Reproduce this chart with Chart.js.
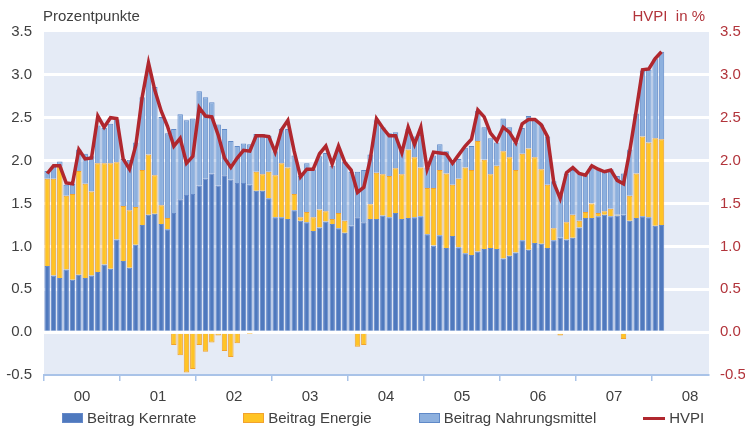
<!DOCTYPE html>
<html>
<head>
<meta charset="utf-8">
<script src="https://cdn.jsdelivr.net/npm/chart.js@4.4.1/dist/chart.umd.min.js"></script>
<style>
  html, body { margin: 0; padding: 0; background: #fff; }
  #wrap { position: relative; width: 745px; height: 429px; font-family: "Liberation Sans", Arial, sans-serif; color: #404040; }
  #chart { position: absolute; left: 0; top: 0; }
  .hdr { position: absolute; top: 7px; font-size: 15px; line-height: 18px; white-space: pre; }
  #legend { position: absolute; left: 62px; top: 409px; display: flex; gap: 47px; font-size: 15px; line-height: 18px; }
  #legend .item { display: flex; align-items: center; white-space: nowrap; }
  #legend .box { width: 21px; height: 10px; box-sizing: border-box; border: 1px solid; margin-right: 4px; }
  #legend .line { width: 22px; height: 3px; margin-right: 4px; }
</style>
</head>
<body>
<div id="wrap">
  <canvas id="chart" width="745" height="429"></canvas>
  <div class="hdr" style="left:43px">Prozentpunkte</div>
  <div class="hdr" style="right:40px; color:#b2343b">HVPI  in %</div>
  <div id="legend"></div>
</div>
<script>
// Monthly data Jan 2000 - Feb 2008 (axis runs on to Sep 2008)
const yearLabels = ["00", "01", "02", "03", "04", "05", "06", "07", "08"];
const monthNames = ["Jan", "Feb", "Mrz", "Apr", "Mai", "Jun", "Jul", "Aug", "Sep", "Okt", "Nov", "Dez"];
const monthsShown = 105;

// Beitrag Kernrate (Prozentpunkte)
const kernrate = [
  0.77, 0.66, 0.63, 0.73, 0.61, 0.67, 0.63, 0.66, 0.70, 0.79, 0.74, 1.08,
  0.83, 0.75, 1.02, 1.25, 1.37, 1.38, 1.26, 1.20, 1.39, 1.55, 1.60, 1.61,
  1.71, 1.79, 1.85, 1.71, 1.83, 1.78, 1.74, 1.74, 1.72, 1.65, 1.65, 1.56,
  1.34, 1.34, 1.32, 1.42, 1.30, 1.28, 1.18, 1.22, 1.29, 1.26, 1.21, 1.16,
  1.24, 1.34, 1.28, 1.32, 1.32, 1.36, 1.34, 1.39, 1.32, 1.33, 1.34, 1.35,
  1.14, 1.01, 1.13, 0.98, 1.12, 0.99, 0.92, 0.90, 0.94, 0.97, 0.98, 0.97,
  0.86, 0.89, 0.93, 1.07, 0.96, 1.04, 1.03, 0.98, 1.07, 1.10, 1.08, 1.10,
  1.22, 1.33, 1.33, 1.35, 1.37, 1.35, 1.36, 1.37, 1.30, 1.33, 1.35, 1.34,
  1.24, 1.25
];

// Beitrag Energie
const energie = [
  1.02, 1.13, 1.30, 0.86, 1.00, 1.21, 1.10, 0.98, 1.27, 1.18, 1.23, 0.90,
  0.64, 0.67, 0.44, 0.64, 0.70, 0.45, 0.22, 0.13, -0.15, -0.27, -0.47, -0.43,
  -0.15, -0.23, -0.12, -0.04, -0.22, -0.29, -0.13, -0.02, -0.01, 0.22, 0.19, 0.31,
  0.49, 0.63, 0.60, 0.19, 0.04, 0.12, 0.16, 0.21, 0.12, 0.06, 0.18, 0.14,
  -0.02, -0.17, -0.15, 0.17, 0.54, 0.48, 0.48, 0.52, 0.52, 0.80, 0.70, 0.57,
  0.54, 0.67, 0.76, 0.87, 0.60, 0.80, 1.00, 0.99, 1.29, 1.04, 0.86, 0.97,
  1.25, 1.15, 0.96, 1.01, 1.18, 1.00, 0.87, 0.74, 0.14, -0.04, 0.20, 0.27,
  0.08, 0.07, 0.17, 0.04, 0.04, 0.09, 0.01, -0.08, 0.29, 0.52, 0.93, 0.87,
  1.02, 1.00
];

// Beitrag Nahrungsmittel
const nahrung = [
  0.09, 0.14, 0.06, 0.13, 0.12, 0.25, 0.35, 0.41, 0.44, 0.41, 0.46, 0.50,
  0.55, 0.59, 0.75, 0.85, 1.02, 1.03, 1.03, 0.99, 0.98, 0.99, 0.87, 0.88,
  1.10, 0.95, 0.83, 0.71, 0.54, 0.45, 0.43, 0.46, 0.47, 0.44, 0.47, 0.42,
  0.28, 0.40, 0.45, 0.45, 0.48, 0.57, 0.56, 0.62, 0.68, 0.62, 0.76, 0.69,
  0.63, 0.53, 0.61, 0.58, 0.61, 0.55, 0.50, 0.42, 0.29, 0.24, 0.24, 0.38,
  0.24, 0.38, 0.30, 0.26, 0.25, 0.23, 0.23, 0.28, 0.35, 0.38, 0.42, 0.27,
  0.38, 0.35, 0.32, 0.30, 0.38, 0.45, 0.52, 0.56, 0.55, 0.50, 0.57, 0.52,
  0.56, 0.43, 0.44, 0.51, 0.46, 0.46, 0.45, 0.48, 0.54, 0.70, 0.77, 0.85,
  0.93, 1.02
];

// HVPI in %
const hvpi = [
  1.85, 1.94, 1.94, 1.74, 1.73, 2.13, 2.02, 2.03, 2.52, 2.39, 2.50, 2.49,
  2.02, 1.90, 2.18, 2.74, 3.14, 2.82, 2.58, 2.40, 2.17, 2.26, 1.97, 2.05,
  2.62, 2.52, 2.51, 2.30, 2.03, 1.92, 2.03, 2.12, 2.11, 2.29, 2.29, 2.28,
  2.10, 2.36, 2.47, 2.11, 1.81, 1.90, 1.90, 2.08, 2.17, 1.96, 2.17, 1.98,
  1.89, 1.63, 1.69, 2.01, 2.49, 2.38, 2.29, 2.29, 2.09, 2.39, 2.19, 2.39,
  1.90, 2.10, 2.09, 2.08, 1.97, 2.07, 2.17, 2.25, 2.59, 2.51, 2.32, 2.23,
  2.39, 2.33, 2.21, 2.43, 2.48, 2.48, 2.42, 2.28, 1.74, 1.56, 1.86, 1.92,
  1.85, 1.83, 1.94, 1.90, 1.87, 1.89, 1.77, 1.73, 2.12, 2.58, 3.06, 3.07,
  3.19, 3.27
];

// category labels: one per month on the axis
const categories = [];
for (let i = 0; i < monthsShown; i++) {
  categories.push(monthNames[i % 12] + " " + (2000 + Math.floor(i / 12)));
}
// year boundaries (tick marks) and year centres (labels) on the month scale
const yearTicks = [];
for (let m = 0; m <= 102; m += 6) yearTicks.push(m);

Chart.defaults.font.family = '"Liberation Sans", Arial, sans-serif';
Chart.defaults.font.size = 15;
Chart.defaults.color = "#404040";

// light plot background
const plotBg = {
  id: "plotBg",
  beforeDraw(chart) {
    const { ctx, chartArea: a } = chart;
    ctx.save();
    ctx.fillStyle = "#e5ebf6";
    ctx.fillRect(a.left, a.top, a.right - a.left, a.bottom - a.top);
    ctx.restore();
  }
};

const chart = new Chart(document.getElementById("chart").getContext("2d"), {
  data: {
    labels: categories,
    datasets: [
      { type: "bar", label: "Beitrag Kernrate", data: kernrate, backgroundColor: "#4f79be", borderColor: "#6488c8", borderWidth: 1, order: 1 },
      { type: "bar", label: "Beitrag Energie", data: energie, backgroundColor: "#ffc425", borderColor: "#f2a22e", borderWidth: 1, order: 1 },
      { type: "bar", label: "Beitrag Nahrungsmittel", data: nahrung, backgroundColor: "#8db0de", borderColor: "#5f89c8", borderWidth: 1, order: 1 },
      { type: "line", label: "HVPI", data: hvpi, yAxisID: "y2", borderColor: "#b0272e", borderWidth: 3.5, pointRadius: 0, tension: 0, order: 0 }
    ]
  },
  options: {
    responsive: false,
    animation: false,
    barPercentage: 0.86,
    categoryPercentage: 1,
    layout: { padding: { top: 32, bottom: 16, left: 0, right: 0 } },
    plugins: { legend: { display: false }, tooltip: { enabled: false } },
    scales: {
      x: { type: "category", stacked: true, display: false, offset: true },
      xYear: {
        type: "linear", position: "bottom", min: 0, max: monthsShown,
        afterBuildTicks: (s) => { s.ticks = yearTicks.map(v => ({ value: v })); },
        ticks: {
          autoSkip: false, maxRotation: 0, padding: 7,
          callback: (v) => (v % 12 === 6 ? yearLabels[(v - 6) / 12] : "")
        },
        grid: {
          drawOnChartArea: false, tickLength: 6, lineWidth: 1.5,
          color: (c) => (c.tick && c.tick.value % 12 === 0 ? "#a9c3e8" : "rgba(0,0,0,0)")
        },
        border: { display: true, color: "#a9c3e8", width: 2 }
      },
      y: {
        stacked: true, min: -0.5, max: 3.5,
        afterFit: (s) => { s.width = 44; },
        ticks: { stepSize: 0.5, padding: 12, callback: (v) => v.toFixed(1) },
        grid: {
          drawTicks: false, lineWidth: 3,
          color: (c) => (c.tick && (c.tick.value === 3.5 || c.tick.value === -0.5) ? "rgba(0,0,0,0)" : "#ffffff")
        },
        border: { display: false }
      },
      y2: {
        position: "right", stacked: false, min: -0.5, max: 3.5,
        afterFit: (s) => { s.width = 36; },
        ticks: { stepSize: 0.5, padding: 3, color: "#b2343b", callback: (v) => v.toFixed(1) },
        grid: { display: false },
        border: { display: false }
      }
    }
  },
  plugins: [plotBg]
});

// HTML legend built from the datasets
const legendEl = document.getElementById("legend");
chart.data.datasets.forEach(ds => {
  const item = document.createElement("div");
  item.className = "item";
  const mark = document.createElement("span");
  if (ds.type === "line") {
    mark.className = "line";
    mark.style.background = ds.borderColor;
  } else {
    mark.className = "box";
    mark.style.background = ds.backgroundColor;
    mark.style.borderColor = ds.borderColor;
  }
  item.appendChild(mark);
  item.appendChild(document.createTextNode(ds.label));
  legendEl.appendChild(item);
});
</script>
</body>
</html>
